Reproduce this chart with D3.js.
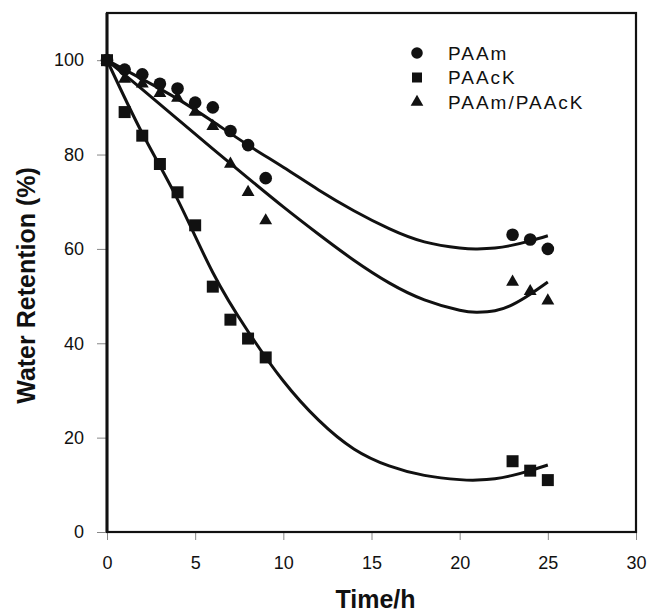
<!DOCTYPE html>
<html>
<head>
<meta charset="utf-8">
<script src="https://cdn.jsdelivr.net/npm/d3@7"></script>
<style>
    body { margin: 0; background: #fff; }
    #retention_chart text { font-family: "Liberation Sans", Arial, sans-serif; fill: #111; }
</style>
</head>
<body>
<div id="retention_chart"></div>
<script>
// measured points (time in hours)
const times = [0, 1, 2, 3, 4, 5, 6, 7, 8, 9, 23, 24, 25];
const paam = [100, 98, 97, 95, 94, 91, 90, 85, 82, 75, 63, 62, 60];
const paack = [100, 89, 84, 78, 72, 65, 52, 45, 41, 37, 15, 13, 11];
const blend = [100, 96, 95, 93, 92, 89, 86, 78, 72, 66, 53, 51, 49];

// fitted trend lines
const fitTimes = [0, 2, 4, 6, 8, 10, 12, 14, 16, 18, 20, 21, 22, 23, 24, 25];
const paamFit = [100, 96, 91.8, 87, 82, 77.3, 72.5, 68.1, 64.3, 61.5, 60.2, 60, 60.2, 60.8, 61.7, 62.8];
const paackFit = [100, 84.5, 70.5, 55, 42.5, 32, 23.7, 17.6, 14, 12, 11.1, 11, 11.3, 12, 13, 14.2];
const blendFit = [100, 93.8, 87.5, 81.2, 75, 68.9, 63.1, 57.6, 52.8, 49.2, 47, 46.6, 46.9, 48.2, 50.4, 53];

const xTicks = [0, 5, 10, 15, 20, 25, 30];
const yTicks = [0, 20, 40, 60, 80, 100];
const seriesNames = ["PAAm", "PAAcK", "PAAm/PAAcK"];

function create_retention_chart(width, height) {
    const margin = { top: 13, right: 14, bottom: 83, left: 107 };
    const innerWidth = width - margin.left - margin.right;
    const innerHeight = height - margin.top - margin.bottom;

    const svg = d3.select("#retention_chart")
        .append("svg")
        .attr("width", width)
        .attr("height", height);

    const chart = svg.append("g")
        .attr("transform", `translate(${margin.left}, ${margin.top})`);

    // scales
    const xScale = d3.scaleLinear().domain([0, 30]).range([0, innerWidth]);
    const yScale = d3.scaleLinear().domain([0, 110]).range([innerHeight, 0]);

    // axes (ticks outside, grey)
    const xAxis = chart.append("g")
        .attr("transform", `translate(0, ${innerHeight})`)
        .call(d3.axisBottom(xScale).tickValues(xTicks).tickSize(8).tickPadding(16));
    const yAxis = chart.append("g")
        .call(d3.axisLeft(yScale).tickValues(yTicks).tickSize(10).tickPadding(13));

    [xAxis, yAxis].forEach(ax => {
        ax.select(".domain").remove();
        ax.selectAll(".tick line").attr("stroke", "#888").attr("stroke-width", 1);
        ax.selectAll(".tick text")
            .style("font-size", "18px")
            .attr("fill", "#111");
    });

    // frame
    chart.append("rect")
        .attr("x", 0)
        .attr("y", 0)
        .attr("width", innerWidth)
        .attr("height", innerHeight)
        .attr("fill", "none")
        .attr("stroke", "#111")
        .attr("stroke-width", 2.2);
    chart.append("line")
        .attr("x1", 0).attr("x2", 0)
        .attr("y1", 0).attr("y2", innerHeight)
        .attr("stroke", "#111")
        .attr("stroke-width", 3);

    // fit lines
    const line = d3.line()
        .x((d, i) => xScale(fitTimes[i]))
        .y(d => yScale(d))
        .curve(d3.curveNatural);

    [paamFit, paackFit, blendFit].forEach(fit => {
        chart.append("path")
            .datum(fit)
            .attr("d", line)
            .attr("fill", "none")
            .attr("stroke", "#111")
            .attr("stroke-width", 3);
    });

    // markers
    const shapes = [d3.symbolCircle, d3.symbolSquare, d3.symbolTriangle];
    const sizes = [125, 144, 72];
    [paam, paack, blend].forEach((values, k) => {
        chart.selectAll(".dot" + k)
            .data(values)
            .enter().append("path")
            .attr("class", "dot" + k)
            .attr("transform", (d, i) => `translate(${xScale(times[i])}, ${yScale(d)})`)
            .attr("d", d3.symbol().type(shapes[k]).size(sizes[k]))
            .attr("fill", "#111");
    });

    // legend
    const legend = svg.append("g")
        .attr("transform", "translate(417, 53)");
    const legendSizes = [105, 100, 70];
    seriesNames.forEach((name, k) => {
        legend.append("path")
            .attr("transform", `translate(0, ${k * 24.5})`)
            .attr("d", d3.symbol().type(shapes[k]).size(legendSizes[k]))
            .attr("fill", "#111");
        legend.append("text")
            .attr("x", 31)
            .attr("y", k * 24.5)
            .attr("dy", "0.36em")
            .style("font-size", "19px")
            .style("letter-spacing", "2px")
            .text(name);
    });

    // x axis label
    chart.append("text")
        .attr("text-anchor", "middle")
        .attr("x", innerWidth / 2 + 4)
        .attr("y", innerHeight + 76)
        .style("font-size", "25px")
        .style("font-weight", "bold")
        .text("Time/h");

    // y axis label
    chart.append("text")
        .attr("text-anchor", "middle")
        .attr("transform", `translate(${-72}, ${innerHeight / 2 + 13}) rotate(-90)`)
        .style("font-size", "25px")
        .style("font-weight", "bold")
        .text("Water Retention (%)");
}

create_retention_chart(650, 615);
</script>
</body>
</html>
